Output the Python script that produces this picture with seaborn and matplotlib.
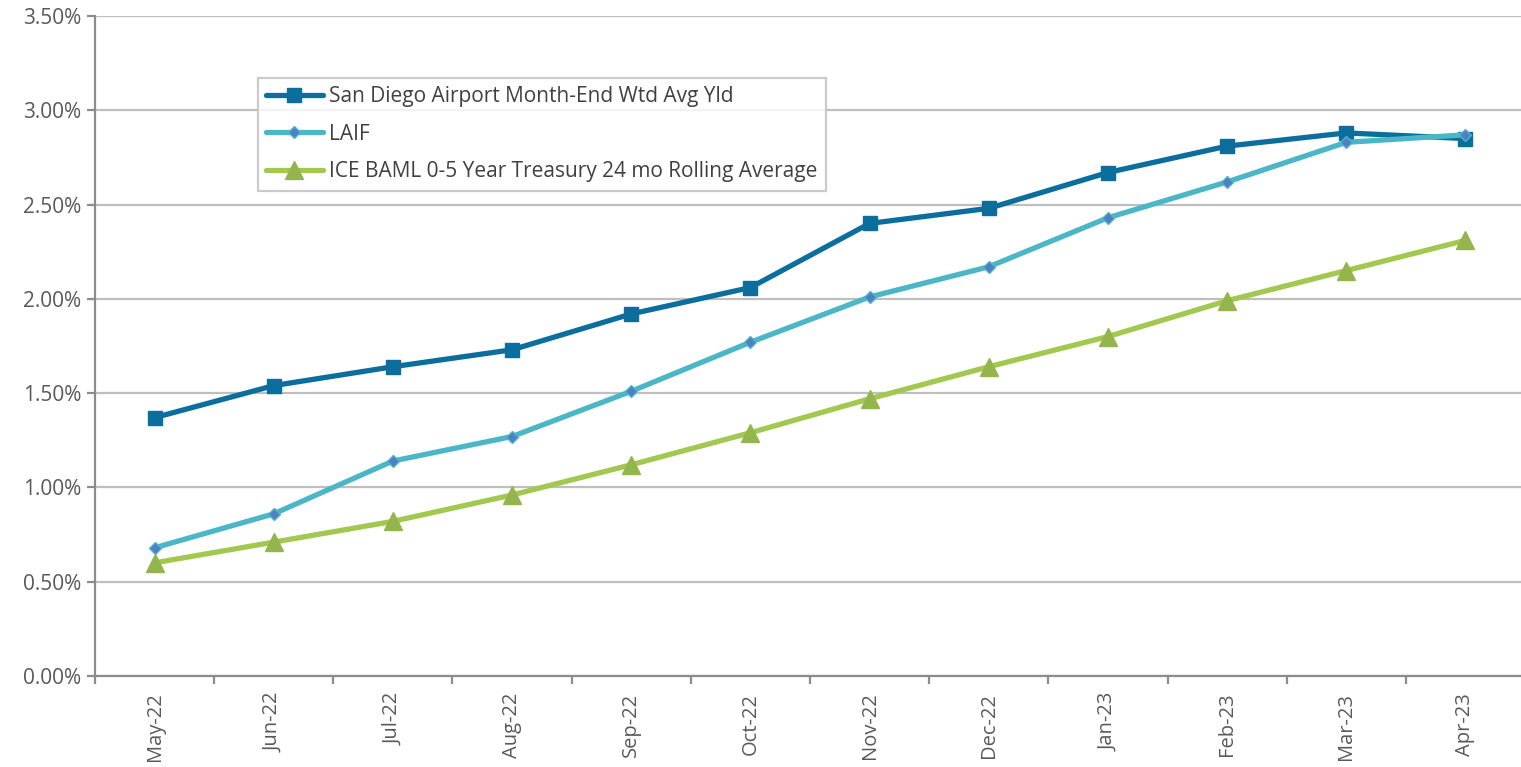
import matplotlib
matplotlib.use("Agg")
import matplotlib.pyplot as plt
from matplotlib.ticker import FixedLocator, PercentFormatter
import seaborn as sns
import pandas as pd

months = ["May-22", "Jun-22", "Jul-22", "Aug-22", "Sep-22", "Oct-22",
          "Nov-22", "Dec-22", "Jan-23", "Feb-23", "Mar-23", "Apr-23"]
san_diego = [1.37, 1.54, 1.64, 1.73, 1.92, 2.06, 2.40, 2.48, 2.67, 2.81, 2.88, 2.85]
laif = [0.68, 0.86, 1.14, 1.27, 1.51, 1.77, 2.01, 2.17, 2.43, 2.62, 2.83, 2.87]
ice_baml = [0.60, 0.71, 0.82, 0.96, 1.12, 1.29, 1.47, 1.64, 1.80, 1.99, 2.15, 2.31]
y_ticks = [0.0, 0.5, 1.0, 1.5, 2.0, 2.5, 3.0, 3.5]

series = [
    ("San Diego Airport Month-End Wtd Avg Yld", san_diego,
     dict(color="#0B6E9C", marker="s", markersize=10.5, mfc="#0B6E9C", mec="#0B6E9C")),
    ("LAIF", laif,
     dict(color="#4BB6C6", marker="D", markersize=6.5, mfc="#4F7FC4", mec="#4BB6C6")),
    ("ICE BAML 0-5 Year Treasury 24 mo Rolling Average", ice_baml,
     dict(color="#A3C84F", marker="^", markersize=13, mfc="#93B54C", mec="#93B54C")),
]

sns.set_theme(style="white")
plt.rcParams["font.family"] = ["Open Sans", "DejaVu Sans"]

fig = plt.figure(figsize=(15.21, 7.67), dpi=100)
ax = fig.add_axes([95 / 1521, 91 / 767, 1430 / 1521, 660 / 767])

pos = list(range(len(months)))
for name, vals, style in series:
    df = pd.DataFrame({"pos": pos, "val": vals})
    sns.lineplot(data=df, x="pos", y="val", ax=ax, label=name,
                 linewidth=3.8, markeredgewidth=1, **style)

ax.set_xlim(-0.5, len(months) - 0.5)
ax.set_ylim(0, 3.5)
ax.set_xlabel("")
ax.set_ylabel("")

ax.yaxis.set_major_locator(FixedLocator(y_ticks))
ax.yaxis.set_major_formatter(PercentFormatter(decimals=2))
ax.grid(axis="y", color="#BFBFBF", linewidth=1.6)
ax.grid(axis="x", visible=False)

ax.set_xticks(pos)
ax.set_xticklabels(months, rotation=90)
ax.set_xticks([p - 0.5 for p in pos] + [len(months) - 0.5], minor=True)
ax.tick_params(axis="x", which="major", length=0, pad=12, labelsize=14.5, labelcolor="#595959")
ax.tick_params(axis="x", which="minor", length=6, width=1.6, color="#8C8C8C", direction="out", bottom=True)
ax.tick_params(axis="y", which="major", length=6, width=1.6, color="#8C8C8C", direction="out",
               left=True, pad=4, labelsize=15, labelcolor="#595959")

for side in ("top", "right"):
    ax.spines[side].set_visible(False)
for side in ("left", "bottom"):
    ax.spines[side].set_color("#8C8C8C")
    ax.spines[side].set_linewidth(1.6)

leg = ax.legend(loc="upper left", bbox_to_anchor=(163 / 1430, (676 - 78) / 660),
                frameon=True, fancybox=False, fontsize=15, handlelength=2.7,
                handletextpad=0.3, borderpad=0.4, labelspacing=0.79, borderaxespad=0)
leg.get_frame().set_edgecolor("#BFBFBF")
leg.get_frame().set_linewidth(1.6)
for t in leg.get_texts():
    t.set_color("#404040")

fig.savefig("out.png", dpi=100, facecolor="white")
